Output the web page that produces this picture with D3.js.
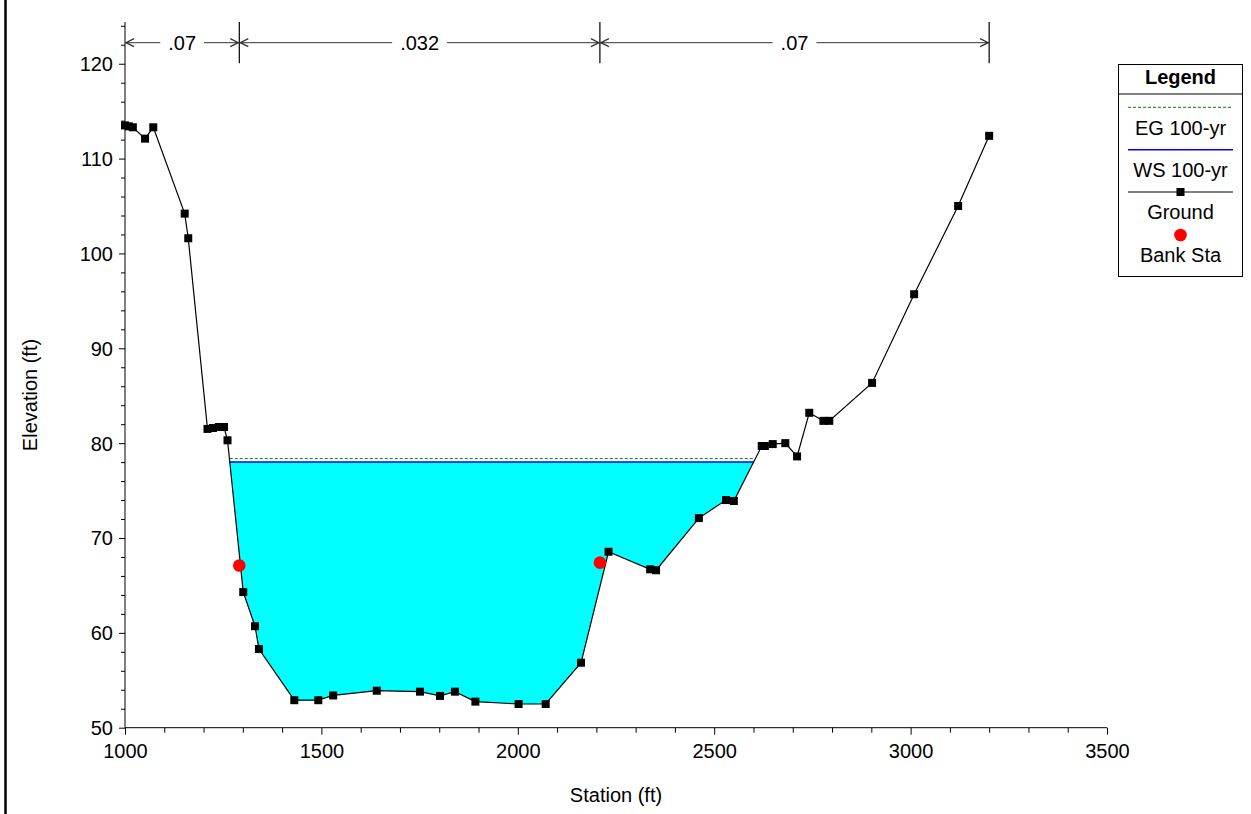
<!DOCTYPE html>
<html><head><meta charset="utf-8">
<script src="https://cdn.jsdelivr.net/npm/d3@7"></script>
<style>
html,body{margin:0;padding:0;background:#fff;}
svg text{font-family:"Liberation Sans",Arial,sans-serif;}
</style></head>
<body><svg id="c" width="1251" height="814"></svg>
<script>
// ---- data ----
const groundStation = [1000,1010,1020,1051,1072,1152,1161,1210,1224,1239,1252,1261,1301,1331,1341,1431,1492,1530,1641,1751,1802,1840,1892,2002,2071,2161,2231,2337,2352,2461,2530,2550,2621,2629,2649,2681,2711,2742,2778,2793,2902,3009,3121,3200];
const groundElev    = [113.5,113.4,113.3,112.1,113.3,104.2,101.6,81.5,81.6,81.7,81.7,80.3,64.3,60.7,58.3,52.9,52.9,53.4,53.9,53.8,53.35,53.8,52.75,52.5,52.5,56.85,68.55,66.7,66.6,72.1,74.0,73.9,79.7,79.7,79.9,80.0,78.6,83.2,82.35,82.35,86.35,95.7,105.0,112.4];
const bankStation = [1291, 2209];
const bankElev = [67.1, 67.4];
const wsElev = 78.0;
const egElev = 78.37;
const nBreaks = [1000, 1291, 2209, 3200];
const nValues = [".07", ".032", ".07"];
const xTicks = [1000,1500,2000,2500,3000,3500];
const yTicks = [50,60,70,80,90,100,110,120];
const legendLabels = ["EG 100-yr","WS 100-yr","Ground","Bank Sta"];

const svg = d3.select("#c");
const FONT = 20;
const x = d3.scaleLinear().domain([1000,3500]).range([125,1107]);
const y = d3.scaleLinear().domain([50,124.4]).range([727.7,22]);

const ground = groundStation.map((s,i)=>({s, e: groundElev[i]}));

// left frame line
svg.append("line").attr("x1",5.5).attr("x2",5.5).attr("y1",0).attr("y2",814)
  .attr("stroke","#000").attr("stroke-width",2.5);

// water polygon: ground clipped at WS elevation
function crossings(level){
  const pts=[];
  for(let i=0;i<ground.length-1;i++){
    const a=ground[i], b=ground[i+1];
    if((a.e-level)*(b.e-level)<0){
      const t=(level-a.e)/(b.e-a.e);
      pts.push(a.s+t*(b.s-a.s));
    }
  }
  return pts;
}
const cr = crossings(wsElev);
const wsL = cr[0], wsR = cr[cr.length-1];
const poly = [{s:wsL,e:wsElev}].concat(ground.filter(d=>d.s>wsL && d.s<wsR)).concat([{s:wsR,e:wsElev}]);
svg.append("path")
  .attr("d", d3.line().x(d=>x(d.s)).y(d=>y(d.e))(poly)+"Z")
  .attr("fill","#00FFFF").attr("stroke","none");

// WS and EG lines
svg.append("line").attr("x1",x(wsL)).attr("x2",x(wsR)).attr("y1",y(egElev)).attr("y2",y(egElev))
  .attr("stroke","#008000").attr("stroke-width",1).attr("stroke-dasharray","3,2");
svg.append("line").attr("x1",x(wsL)).attr("x2",x(wsR)).attr("y1",y(wsElev)).attr("y2",y(wsElev))
  .attr("stroke","#0000FF").attr("stroke-width",1.5);

// axes
const yMajor = d3.axisLeft(y).tickValues(yTicks).tickSize(6).tickPadding(6).tickFormat(d3.format("d"));
const yMinor = d3.axisLeft(y).tickValues(d3.range(50,125,2).filter(v=>v%10!==0)).tickSize(4).tickFormat("");
const xMajor = d3.axisBottom(x).tickValues(xTicks).tickSize(7).tickPadding(3).tickFormat(d3.format("d"));
const xMinor = d3.axisBottom(x).tickValues(d3.range(1000,3501,100).filter(v=>v%500!==0)).tickSize(5).tickFormat("");

function styleAxis(g){
  g.selectAll("path").attr("stroke","#000");
  g.selectAll("line").attr("stroke","#000");
  g.selectAll("text").attr("font-size",FONT).attr("fill","#000").attr("font-family","Liberation Sans, Arial, sans-serif");
}
const gy = svg.append("g").attr("transform","translate(125,0)").call(yMajor).call(styleAxis);
gy.select(".domain").attr("d","M0,727.7V22");
const gym = svg.append("g").attr("transform","translate(125,0)").call(yMinor).call(styleAxis);
gym.select(".domain").remove();
const gx = svg.append("g").attr("transform","translate(0,727.7)").call(xMajor).call(styleAxis);
gx.select(".domain").attr("d","M125,0H1107");
const gxm = svg.append("g").attr("transform","translate(0,727.7)").call(xMinor).call(styleAxis);
gxm.select(".domain").remove();
gx.selectAll("text").attr("dy","1.02em");
gy.selectAll("text").attr("dy","0.35em");

// axis titles
svg.append("text").attr("x",616).attr("y",802).attr("text-anchor","middle").attr("font-size",FONT).text("Station (ft)");
svg.append("text").attr("transform","translate(37,395) rotate(-90)").attr("text-anchor","middle").attr("font-size",FONT).text("Elevation (ft)");

// ground line and markers
svg.append("path").attr("d", d3.line().x(d=>x(d.s)).y(d=>y(d.e))(ground))
  .attr("fill","none").attr("stroke","#000").attr("stroke-width",1.2);
svg.selectAll("rect.gm").data(ground).enter().append("rect").attr("class","gm")
  .attr("x",d=>x(d.s)-4).attr("y",d=>y(d.e)-4).attr("width",8).attr("height",8).attr("fill","#000");

// bank stations
svg.selectAll("circle.bank").data(bankStation).enter().append("circle").attr("class","bank")
  .attr("cx",d=>x(d)).attr("cy",(d,i)=>y(bankElev[i])).attr("r",6.3).attr("fill","#FF0000");

// Manning's n bar
const nY = 42.7;
const nTop = 22, nBot = 63.3;
nBreaks.forEach((b,i)=>{
  if(i>0) svg.append("line").attr("x1",x(b)).attr("x2",x(b)).attr("y1",nTop).attr("y2",nBot).attr("stroke","#000").attr("stroke-width",1.2);
});
for(let i=0;i<nValues.length;i++){
  const x0=x(nBreaks[i]), x1=x(nBreaks[i+1]), xm=(x0+x1)/2;
  const t = svg.append("text").attr("x",xm).attr("y",nY).attr("dy","0.35em").attr("text-anchor","middle").attr("font-size",FONT).text(nValues[i]);
  const w = t.node().getComputedTextLength();
  const gap = w/2 + 8;
  svg.append("line").attr("x1",x0).attr("x2",xm-gap).attr("y1",nY).attr("y2",nY).attr("stroke","#333");
  svg.append("line").attr("x1",xm+gap).attr("x2",x1).attr("y1",nY).attr("y2",nY).attr("stroke","#333");
  // chevrons
  svg.append("path").attr("d",`M${x0+9},${nY-4}L${x0+1},${nY}L${x0+9},${nY+4}`).attr("fill","none").attr("stroke","#333").attr("stroke-width",1.3);
  svg.append("path").attr("d",`M${x1-9},${nY-4}L${x1-1},${nY}L${x1-9},${nY+4}`).attr("fill","none").attr("stroke","#333").attr("stroke-width",1.3);
}

// legend
const lg = svg.append("g");
lg.append("rect").attr("x",1118.5).attr("y",64.5).attr("width",124).attr("height",212).attr("fill","#fff").attr("stroke","#000").attr("stroke-width",1);
lg.append("line").attr("x1",1118.5).attr("x2",1242.5).attr("y1",94).attr("y2",94).attr("stroke","#000");
lg.append("text").attr("x",1180.5).attr("y",77).attr("dy","0.35em").attr("text-anchor","middle").attr("font-weight","bold").attr("font-size",FONT).text("Legend");
const lx1=1128, lx2=1233, lc=1180.5;
lg.append("line").attr("x1",lx1).attr("x2",lx2).attr("y1",107.3).attr("y2",107.3).attr("stroke","#008000").attr("stroke-dasharray","3,2");
lg.append("line").attr("x1",lx1).attr("x2",lx2).attr("y1",149.7).attr("y2",149.7).attr("stroke","#0000FF").attr("stroke-width",1.5);
lg.append("line").attr("x1",lx1).attr("x2",lx2).attr("y1",192).attr("y2",192).attr("stroke","#000").attr("stroke-width",1.2);
lg.append("rect").attr("x",lc-4).attr("y",188).attr("width",8).attr("height",8).attr("fill","#000");
lg.append("circle").attr("cx",lc).attr("cy",235).attr("r",6.3).attr("fill","#FF0000");
const ly=[127.5,169.5,211.5,255];
legendLabels.forEach((l,i)=>{
  lg.append("text").attr("x",lc).attr("y",ly[i]).attr("dy","0.35em").attr("text-anchor","middle").attr("font-size",FONT).text(l);
});
</script></body></html>
